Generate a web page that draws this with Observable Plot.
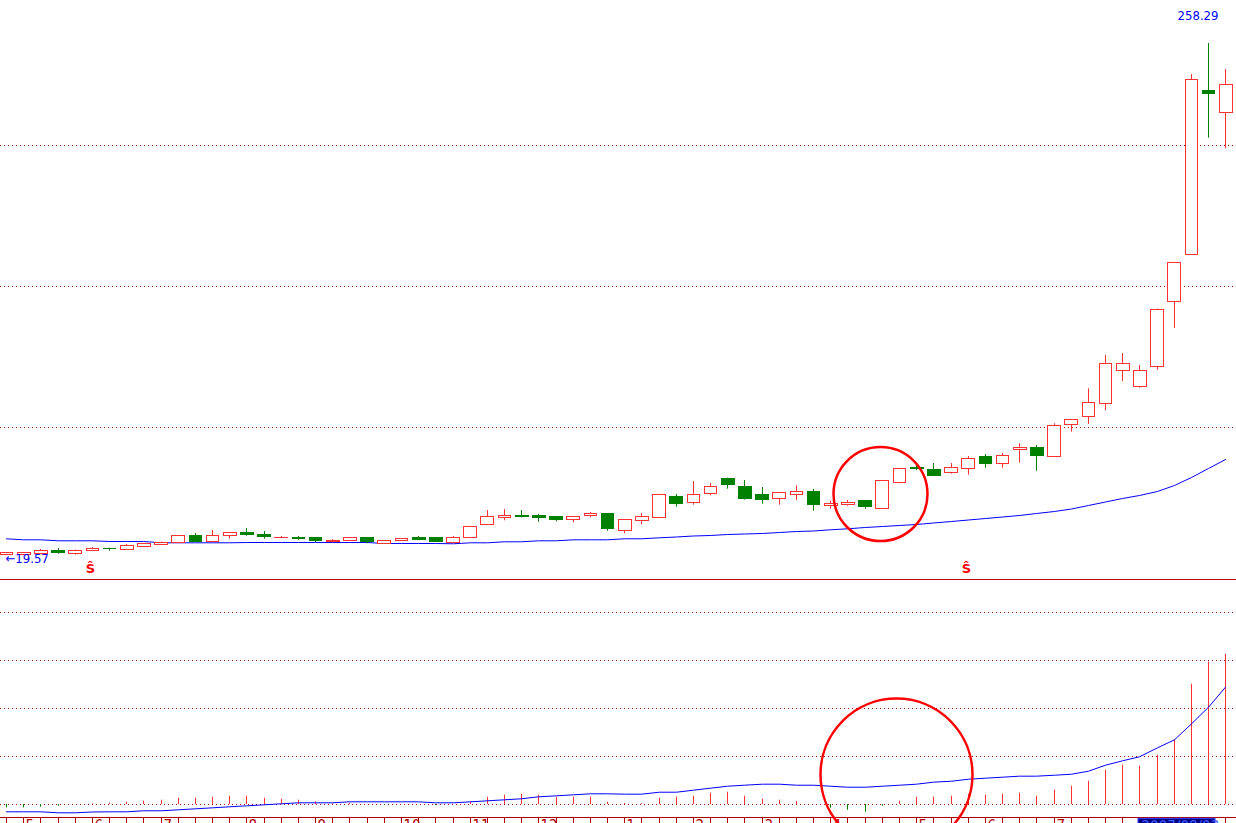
<!DOCTYPE html>
<html><head><meta charset="utf-8">
<script src="https://cdn.jsdelivr.net/npm/d3@7"></script>
<script src="https://cdn.jsdelivr.net/npm/@observablehq/plot@0.6"></script>
<style>
html,body{margin:0;padding:0;background:#fff;overflow:hidden}
#chart svg{display:block;max-width:none}
</style></head><body><div id="chart"></div>
<script>
// weekly OHLC
const opens  = [19.71,19.71,20.18,21.44,20.36,21.90,22.83,22.23,23.44,24.37,25.63,28.43,25.77,28.76,29.97,29.36,27.64,27.96,27.50,25.77,26.24,27.96,25.03,26.24,27.50,27.50,25.49,27.82,33.89,36.96,38.22,37.76,37.29,36.22,38.08,39.15,31.09,35.75,37.15,46.62,44.14,48.34,55.01,51.74,47.55,46.01,47.87,48.95,42.75,43.21,44.75,41.16,53.47,60.14,59.53,57.95,59.81,65.27,62.14,68.67,69.46,65.41,80.52,84.06,90.31,105.70,98.05,107.56,137.54,159.79,236.07,225.99];
const highs  = [20.64,20.64,22.37,22.83,22.13,23.30,23.00,24.70,25.17,25.80,28.43,29.83,31.23,29.83,32.16,30.76,28.43,28.43,27.96,27.03,27.82,27.96,26.10,27.36,28.43,27.96,28.43,32.95,40.55,41.02,40.55,38.69,37.76,37.76,39.62,39.15,36.22,39.15,48.01,48.01,54.08,53.14,55.61,54.54,51.28,48.48,52.07,50.35,44.89,45.22,44.75,54.40,60.00,61.68,62.47,62.47,65.73,66.67,67.13,71.66,70.86,80.98,82.52,97.30,112.83,113.76,108.17,134.50,156.20,243.86,258.29,246.19];
const lows   = [19.57,19.71,19.90,20.18,19.71,21.90,21.58,22.23,23.44,24.37,25.63,25.77,25.77,27.17,28.57,27.17,27.64,26.70,25.63,25.77,26.24,25.03,25.03,26.24,27.03,25.77,25.49,27.82,33.89,35.75,37.15,35.10,35.28,34.82,37.15,30.90,29.69,33.89,37.15,42.09,43.02,47.41,50.49,45.36,43.49,43.02,45.22,40.23,41.16,42.56,41.16,41.16,53.00,59.20,56.55,57.48,57.01,60.28,60.28,62.61,58.88,65.41,77.06,80.66,87.18,100.71,97.58,105.98,125.42,159.79,214.16,209.21];
const closes = [20.64,20.64,21.44,20.64,21.90,22.83,22.37,23.77,24.70,25.63,28.43,25.77,28.43,29.83,29.04,28.10,27.96,27.17,26.24,26.56,27.82,25.77,26.10,27.36,27.03,25.77,27.82,32.95,37.62,37.76,37.43,36.96,36.03,37.29,39.15,31.83,36.22,37.29,47.55,43.49,47.55,51.28,52.35,45.82,45.22,48.48,48.95,43.02,43.49,43.96,42.09,54.40,60.00,59.67,56.87,60.46,64.66,62.14,66.06,69.46,65.87,80.05,82.52,90.45,108.63,108.96,105.70,133.81,155.73,241.39,234.67,239.04];
// price moving average
const priceMA = [27.36,26.89,26.89,26.42,26.42,26.42,26.10,26.10,26.10,25.49,25.49,25.49,25.49,25.49,25.63,25.63,25.63,25.63,25.63,25.63,25.63,25.63,25.17,25.17,25.17,25.17,25.03,25.49,25.49,25.96,25.96,26.42,26.42,26.89,26.89,26.89,27.36,27.36,27.82,28.20,28.66,28.90,29.36,29.59,29.83,30.29,30.76,30.99,31.55,32.02,32.63,33.09,33.56,34.02,34.72,35.42,36.12,36.82,37.52,38.22,39.15,40.09,41.25,42.88,44.51,46.15,47.55,49.41,52.21,55.94,60.13,64.33];
// lower indicator bars and its average
const indicator = [-7.1,-7.1,-5.6,-3.5,0,1.5,2.7,4.8,6.9,9.0,13.1,13.1,15.2,17.3,17.3,13.1,11.0,9.0,5.6,1.0,2.7,0,-1.5,0,0,-2.1,0,5.6,15.2,19.4,21.5,19.4,15.2,15.2,15.2,4.8,2.1,2.1,13.1,15.2,17.3,23.5,25.6,17.3,11.0,9.0,6.3,0,-7.7,-11.9,-16.0,-3.5,6.9,15.2,15.2,17.3,21.5,19.4,21.5,23.5,17.3,29.8,38.1,48.5,71.5,81.9,79.8,102.7,134.8,250.6,296.5,312.5];
const indicatorMA = [-15.2,-15.2,-15.2,-17.3,-17.3,-15.6,-15.2,-15.2,-13.1,-13.1,-11.0,-9.0,-6.9,-4.8,-2.7,-0.6,1.5,3.5,3.5,3.5,5.6,5.6,5.6,5.6,5.6,3.5,3.5,5.6,7.7,9.8,11.9,16.0,18.1,20.2,22.3,22.3,21.5,21.5,25.6,25.6,29.8,34.0,38.1,40.2,42.3,42.3,40.2,40.2,38.1,36.0,36.0,38.1,40.2,42.3,46.5,48.5,52.7,54.8,56.9,59.0,59.0,61.0,63.1,69.4,81.9,91.0,99.4,118.1,134.8,168.1,202.7,244.4];
// grids and labels
const priceGrid = [79.25, 144.99, 210.73];
const indicatorGrid = [0, 100, 200, 300, 400];
const monthStartIdx = [1,5,9,14,18,23,27,31,36,40,44,48,53,57,61];
const monthLabels = ["5","6","7","8","9","10","11","12","1","2","3","4","5","6","7"];
const signalIdx = [5, 56];
const lowPrice = 19.57, highPrice = 258.29;
const cursorIdx = 66, cursorLabel = "2007/08/03";
const circleTop = {i: 50.9, price: 48.24, r: 47};
const circleBottom = {i: 51.83, value: 62.5, r: 76};

const RED = "#ff3232", GREEN = "#008000", BLUE = "#0000ff", GRID = "#a00000", AXIS = "#b00000";
const FONT = "'Liberation Sans Narrow','DejaVu Sans Condensed','Liberation Sans',sans-serif";

const idx = d3.range(opens.length);
const candles = idx.map(i => ({i, o: opens[i], h: highs[i], l: lows[i], c: closes[i], up: closes[i] >= opens[i]}));
const months = monthStartIdx.map((i, k) => ({i, label: monthLabels[k]}));
const xOpts = {domain: [0, 71], range: [6, 1225.3], round: true};

const topPlot = Plot.plot({
  width: 1236, height: 580, marginTop: 0, marginRight: 0, marginBottom: 1, marginLeft: 0,
  x: {...xOpts, axis: null},
  y: {domain: [8.38, 278.34], axis: null},
  marks: [
    Plot.ruleY(priceGrid, {stroke: GRID, strokeDasharray: "1,3"}),
    Plot.frame({anchor: "bottom", stroke: "#c00000"}),
    Plot.line(idx, {x: i => i, y: i => priceMA[i], stroke: BLUE, strokeWidth: 1}),
    Plot.ruleX(candles, {x: "i", y1: "l", y2: "h", stroke: d => d.up ? RED : GREEN}),
    Plot.rect(candles, {x1: d => d.i - 0.37, x2: d => d.i + 0.37, y1: "o", y2: "c",
      fill: d => d.up ? "#ffffff" : GREEN, stroke: d => d.up ? RED : GREEN, shapeRendering: "crispEdges"}),
    Plot.text([lowPrice], {x: 0, y: d => d, text: d => "←" + d.toFixed(2), textAnchor: "start", dx: -1, dy: 3,
      fill: BLUE, fontFamily: FONT, fontSize: 13}),
    Plot.text([highPrice], {frameAnchor: "top-right", text: d => d.toFixed(2), textAnchor: "end", dx: -18, dy: 10,
      fill: BLUE, fontFamily: FONT, fontSize: 13}),
    Plot.text(signalIdx, {x: d => d, frameAnchor: "bottom", dy: -7, dx: -2, text: () => "Ŝ", fill: "#ff0000",
      fontWeight: "bold", fontSize: 13, fontFamily: "DejaVu Sans, sans-serif"}),
    Plot.dot([circleTop], {x: "i", y: "price", r: circleTop.r, stroke: "#ff0000", strokeWidth: 2.5, fill: "none"})
  ]
});

const bottomPlot = Plot.plot({
  width: 1236, height: 243, marginTop: 0, marginRight: 0, marginBottom: 6, marginLeft: 0,
  x: {...xOpts},
  y: {domain: [-27.08, 466.67], axis: null},
  marks: [
    Plot.ruleY(indicatorGrid, {stroke: GRID, strokeDasharray: "1,3"}),
    Plot.ruleX(idx, {x: i => i, y1: 0, y2: i => indicator[i], stroke: i => indicator[i] >= 0 ? RED : GREEN}),
    Plot.line(idx, {x: i => i, y: i => indicatorMA[i], stroke: BLUE, strokeWidth: 1}),
    Plot.frame({anchor: "bottom", stroke: AXIS}),
    Plot.axisX(idx, {anchor: "bottom", tickSize: 6, tickFormat: () => "", stroke: AXIS, label: null}),
    Plot.text(months, {x: "i", text: "label", frameAnchor: "bottom", dx: 2, dy: 2.5, textAnchor: "start",
      lineAnchor: "top", fill: AXIS, fontFamily: FONT, fontSize: 15}),
    Plot.rect([cursorIdx], {x1: d => d - 0.1, x2: d => d + 4.4, y1: -29.8, y2: -45, fill: "#000080", stroke: "#2a3cff"}),
    Plot.text([cursorLabel], {x: cursorIdx, frameAnchor: "bottom", text: d => d, dx: 2, dy: 4, textAnchor: "start",
      lineAnchor: "top", fill: "#3d5cff", fontFamily: FONT, fontSize: 15}),
    Plot.dot([circleBottom], {x: "i", y: "value", r: circleBottom.r, stroke: "#ff0000", strokeWidth: 2.5, fill: "none"})
  ]
});

const root = document.getElementById("chart");
root.append(topPlot, bottomPlot);
</script>
</body></html>
